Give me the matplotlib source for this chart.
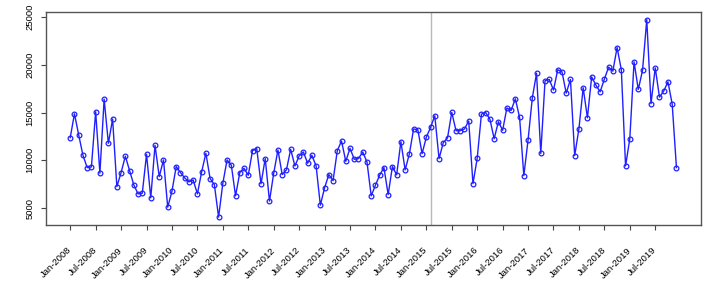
import matplotlib.pyplot as plt
import matplotlib.transforms as mtransforms
import numpy as np

plt.rcParams['font.family'] = ['Liberation Sans', 'DejaVu Sans']

# monthly values, Jan 2008 .. Dec 2019
values = [12370, 14870, 12650, 10530, 9240, 9310, 15080, 8650, 16400, 11780, 14320, 7250,
          8720, 10430, 8920, 7430, 6490, 6560, 10630, 6070, 11570, 8300, 10040, 5100,
          6770, 9350, 8720, 8160, 7740, 7950, 6490, 8790, 10740, 8090, 7460, 4060,
          7610, 10040, 9490, 6280, 8720, 9170, 8440, 11010, 11220, 7540, 10180, 5730,
          8650, 11080, 8510, 9000, 11150, 9410, 10460, 10870, 9700, 10530, 9410, 5310,
          7120, 8510, 7880, 11010, 12020, 9900, 11260, 10110, 10180, 10870, 9830, 6280,
          7400, 8460, 9240, 6420, 9350, 8480, 11950, 9000, 10670, 13280, 13200, 10700,
          12410, 13450, 14660, 10180, 11850, 12340, 15020, 13100, 13100, 13280, 14110, 7560,
          10200, 14830, 15000, 14300, 12260, 14040, 13140, 15470, 15220, 16440, 14480, 8400,
          12130, 16520, 19110, 10720, 18320, 18460, 17350, 19470, 19260, 17030, 18460, 10490,
          13310, 17590, 14450, 18730, 17870, 17170, 18490, 19750, 19330, 21800, 19470, 9410,
          12260, 20300, 17420, 19400, 24720, 15920, 19670, 16610, 17240, 18210, 15880, 9240]

tick_labels = ['Jan-2008', 'Jul-2008', 'Jan-2009', 'Jul-2009', 'Jan-2010', 'Jul-2010',
               'Jan-2011', 'Jul-2011', 'Jan-2012', 'Jul-2012', 'Jan-2013', 'Jul-2013',
               'Jan-2014', 'Jul-2014', 'Jan-2015', 'Jul-2015', 'Jan-2016', 'Jul-2016',
               'Jan-2017', 'Jul-2017', 'Jan-2018', 'Jul-2018', 'Jan-2019', 'Jul-2019']
y_ticks = [5000, 10000, 15000, 20000, 25000]
break_month = 86

x = np.arange(1, len(values) + 1)

fig = plt.figure(figsize=(7.24, 2.84), dpi=100)
ax = fig.add_axes([0.0635, 0.2077, 0.9043, 0.7511])

ax.axvline(x=break_month, color='#b8b8b8', lw=1, zorder=1)
ax.plot(x, values, color='#1f1fff', lw=1, marker='o', markersize=3.4,
        markerfacecolor='none', markeredgewidth=0.9, zorder=2)

# R-like 4% padding
pad_x = 0.04 * (x.max() - x.min())
pad_y = 0.04 * (max(values) - min(values))
ax.set_xlim(x.min() - pad_x, x.max() + pad_x)
ax.set_ylim(min(values) - pad_y, max(values) + pad_y)

ax.set_xticks(np.arange(1, len(values) + 1, 6))
ax.set_xticklabels(tick_labels, rotation=45, ha='right', va='center',
                   rotation_mode='anchor', fontsize=6.8)
ax.set_yticks(y_ticks)
ax.set_yticklabels([str(v) for v in y_ticks], rotation=90, va='center', fontsize=6.8)

ax.tick_params(axis='x', length=3.6, width=0.8, color='#444444', pad=13.5)
ax.tick_params(axis='y', length=3.6, width=0.8, color='#444444', pad=4.5)
for s in ax.spines.values():
    s.set_color('#555555')
    s.set_linewidth(1)

fig.savefig('out.png', dpi=100)
